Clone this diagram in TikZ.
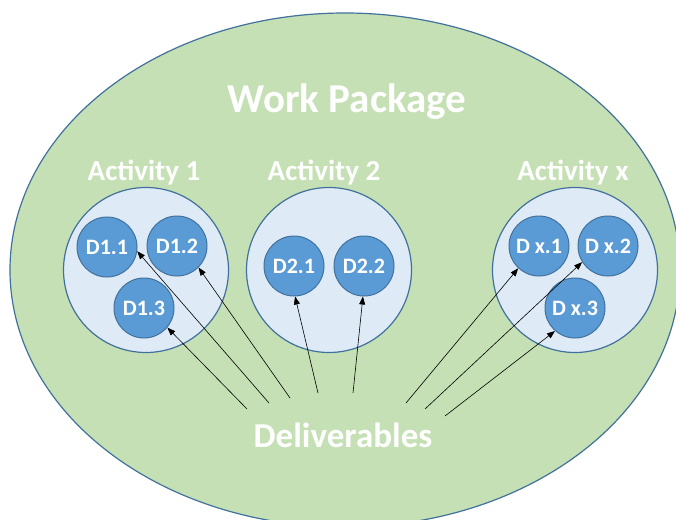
\documentclass[tikz,border=0pt]{standalone}
\usepackage{fontspec}
\setmainfont{Carlito}
\usetikzlibrary{positioning,arrows.meta}

\definecolor{wpgreen}{HTML}{C5E0B4}
\definecolor{actblue}{HTML}{DEEBF7}
\definecolor{delblue}{HTML}{5B9BD5}
\definecolor{rimblue}{HTML}{41719C}

\tikzset{
  activity/.style = {circle, draw = rimblue, fill = actblue, line width = 1.2pt,
    minimum size = 165pt, inner sep = 0pt},
  deliv/.style = {circle, draw = rimblue, fill = delblue, line width = 1pt,
    minimum size = 60pt, inner sep = 0pt, text = white,
    font = \bfseries\fontsize{22}{22}\selectfont},
  headtext/.style = {text = white, inner sep = 0pt, anchor = base},
  feed/.style = {-{Triangle[length = 8pt, width = 6pt]}, line width = 0.6pt},
}

\begin{document}
\begin{tikzpicture}[x = 1pt, y = -1pt]
    \clip (0,0) rectangle (676,519);
    \fill[white] (0,0) rectangle (676,519);
    \draw[rimblue, fill = wpgreen, line width = 1.2pt] (345,270) ellipse [x radius = 335, y radius = 257];

    \node[headtext, font = \bfseries\fontsize{41}{41}\selectfont] (wp) at (347,112) {Work Package};

    \node[activity] (a1) at (146,270) {};
    \node[activity] (a2) at (329,270) {};
    \node[activity] (ax) at (575,270) {};

    \node[headtext, font = \bfseries\fontsize{29}{29}\selectfont] (a1t) at (144,180) {Activity 1};
    \node[headtext, font = \bfseries\fontsize{29}{29}\selectfont] (a2t) at (324,180) {Activity 2};
    \node[headtext, font = \bfseries\fontsize{29}{29}\selectfont] (axt) at (573,180) {Activity x};

    \node[deliv] (d11) at (107,247) {D1.1};
    \node[deliv] (d12) at (177,246) {D1.2};
    \node[deliv] (d13) at (144,308) {D1.3};
    \node[deliv] (d21) at (294,266) {D2.1};
    \node[deliv] (d22) at (364,266) {D2.2};
    \node[deliv] (dx1) at (539,246) {D x.1};
    \node[deliv] (dx2) at (608,246) {D x.2};
    \node[deliv] (dx3) at (575,308) {D x.3};

    \node[headtext, font = \bfseries\fontsize{35}{35}\selectfont] (dl) at (343,447) {Deliverables};

    \coordinate (t1) at (247,409);
    \coordinate (t2) at (269,403);
    \coordinate (t3) at (290,398);
    \coordinate (t4) at (318,393);
    \coordinate (t5) at (353,393);
    \coordinate (t6) at (406,403);
    \coordinate (t7) at (425,409);
    \coordinate (t8) at (445,416);

    \draw[feed] (t1) -- (d13.-40);
    \draw[feed] (t2) -- (d11.-8);
    \draw[feed] (t3) -- (d12.-45);
    \draw[feed] (t4) -- (d21.-88);
    \draw[feed] (t5) -- (d22.-92);
    \draw[feed] (t6) -- (dx1.-133);
    \draw[feed] (t7) -- (dx2.-148);
    \draw[feed] (t8) -- (dx3.-131);
\end{tikzpicture}
\end{document}
